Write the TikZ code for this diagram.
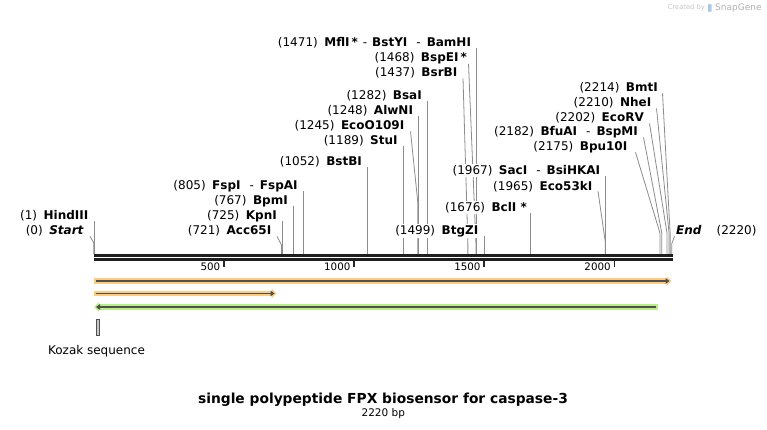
\documentclass[tikz,border=0pt]{standalone}
\usepackage{fontspec}
\setmainfont{DejaVu Sans}
\usetikzlibrary{arrows.meta,backgrounds}
\definecolor{featorange}{RGB}{252,204,128}
\definecolor{featgreen}{RGB}{184,240,134}
\definecolor{featline}{RGB}{80,80,80}
\definecolor{sitegray}{RGB}{140,140,140}
\definecolor{logoblue}{RGB}{172,202,232}
\def\bpx#1{93.8+0.2603*#1}
\def\site(#1)#2{(#1)\hspace{6.5pt}\textbf{#2}}
\def\sep{\hspace{9pt}-\hspace{6pt}}
\tikzset{
  lbl/.style={fill=white, inner xsep=0pt, inner ysep=1.5pt, anchor=base east, font=\fontsize{12}{14}\selectfont},
  cut/.style={sitegray, line width=0.8pt},
  bone/.style={line width=2.6pt, black!88},
  tickmark/.style={line width=1.8pt, black!85},
  ticklbl/.style={inner sep=0pt, anchor=base east, font=\fontsize{10.3}{12}\selectfont},
  band/.style={line width=5.6pt},
  fline/.style={featline, line width=1.7pt},
}

\begin{document}
\begin{tikzpicture}[x=1pt,y=-1pt]
	%%%%% START %%%%%
	\useasboundingbox (0,0) rectangle (767,430);
	\begin{pgfonlayer}{background}
		\fill[white] (0,0) rectangle (767,430);
	\end{pgfonlayer}
	
	\node[inner sep=0pt, anchor=base east, font=\fontsize{6.7}{8}\selectfont, text=black!22] (madeby) at (705,10) {Created by};
	\fill[logoblue, rounded corners=0.8pt] (708,4) rectangle (711.5,12);
	\node[inner sep=0pt, anchor=base west, font=\fontsize{9}{10}\selectfont, text=black!30] (snapgene) at (715,10.5) {SnapGene};
	
	% backbone and scale
	\draw[bone] (93.8,255.4) -- (672.7,255.4);
	\draw[bone] (93.8,259.3) -- (672.7,259.3);
	\draw[tickmark] ({\bpx{500}},260.5) -- ({\bpx{500}},267);
	\draw[tickmark] ({\bpx{1000}},260.5) -- ({\bpx{1000}},267);
	\draw[tickmark] ({\bpx{1500}},260.5) -- ({\bpx{1500}},267);
	\draw[tickmark] ({\bpx{2000}},260.5) -- ({\bpx{2000}},267);
	\node[ticklbl] (t500) at ({\bpx{500}-3.5},270.7) {500};
	\node[ticklbl] (t1000) at ({\bpx{1000}-3.5},270.7) {1000};
	\node[ticklbl] (t1500) at ({\bpx{1500}-3.5},270.7) {1500};
	\node[ticklbl] (t2000) at ({\bpx{2000}-3.5},270.7) {2000};
	
	% sites on the backbone
	\coordinate (s0) at ({\bpx{0}},254);
	\coordinate (s1) at ({\bpx{1}},254);
	\coordinate (s721) at ({\bpx{721}},254);
	\coordinate (s725) at ({\bpx{725}},254);
	\coordinate (s767) at ({\bpx{767}},254);
	\coordinate (s805) at ({\bpx{805}},254);
	\coordinate (s1052) at ({\bpx{1052}},254);
	\coordinate (s1189) at ({\bpx{1189}},254);
	\coordinate (s1245) at ({\bpx{1245}},254);
	\coordinate (s1248) at ({\bpx{1248}},254);
	\coordinate (s1282) at ({\bpx{1282}},254);
	\coordinate (s1437) at ({\bpx{1437}},254);
	\coordinate (s1468) at ({\bpx{1468}},254);
	\coordinate (s1471) at ({\bpx{1471}},254);
	\coordinate (s1499) at ({\bpx{1499}},254);
	\coordinate (s1676) at ({\bpx{1676}},254);
	\coordinate (s1965) at ({\bpx{1965}},254);
	\coordinate (s1967) at ({\bpx{1967}},254);
	\coordinate (s2175) at ({\bpx{2175}},254);
	\coordinate (s2182) at ({\bpx{2182}},254);
	\coordinate (s2202) at ({\bpx{2202}},254);
	\coordinate (s2210) at ({\bpx{2210}},254);
	\coordinate (s2214) at ({\bpx{2214}},254);
	\coordinate (s2220) at ({\bpx{2220}},254);
	
	% site labels
	\node[lbl] (start) at (84,234.3) {\site(0){\textit{Start}}};
	\node[lbl] (hindIII) at ({\bpx{1}-5.5},219.3) {\site(1){HindIII}};
	\node[lbl] (acc65I) at (271.5,234.3) {\site(721){Acc65I}};
	\node[lbl] (kpnI) at ({\bpx{725}-5.5},219.3) {\site(725){KpnI}};
	\node[lbl] (bpmI) at ({\bpx{767}-5.5},204.3) {\site(767){BpmI}};
	\node[lbl] (fspI) at ({\bpx{805}-5.5},189.3) {\site(805){FspI}\sep\textbf{FspAI}};
	\node[lbl] (bstBI) at ({\bpx{1052}-5.5},165.3) {\site(1052){BstBI}};
	\node[lbl] (stuI) at ({\bpx{1189}-5.5},144.3) {\site(1189){StuI}};
	\node[lbl] (ecoO109I) at (404.5,129.3) {\site(1245){EcoO109I}};
	\node[lbl] (alwNI) at ({\bpx{1248}-5.5},114.3) {\site(1248){AlwNI}};
	\node[lbl] (bsaI) at ({\bpx{1282}-5.5},99.3) {\site(1282){BsaI}};
	\node[lbl] (bsrBI) at (457.5,76.3) {\site(1437){BsrBI}};
	\node[lbl] (bspEI) at (467,61.8) {\site(1468){BspEI\,*}};
	\node[lbl] (mflI) at ({\bpx{1471}-5.5},46.3) {\site(1471){MflI\,*}\hspace{5pt}-\hspace{5pt}\textbf{BstYI}\sep\textbf{BamHI}};
	\node[lbl] (btgZI) at ({\bpx{1499}-5.5},234.3) {\site(1499){BtgZI}};
	\node[lbl] (bclI) at ({\bpx{1676}-3},211.3) {\site(1676){BclI *}};
	\node[lbl] (eco53kI) at (592.5,190.3) {\site(1965){Eco53kI}};
	\node[lbl] (sacI) at ({\bpx{1967}-5.5},174.3) {\site(1967){SacI}\sep\textbf{BsiHKAI}};
	\node[lbl] (bpu10I) at (627.5,150.3) {\site(2175){Bpu10I}};
	\node[lbl] (bfuAI) at (638,135.3) {\site(2182){BfuAI}\sep\textbf{BspMI}};
	\node[lbl] (ecoRV) at (644,121.3) {\site(2202){EcoRV}};
	\node[lbl] (nheI) at (651.5,106.3) {\site(2210){NheI}};
	\node[lbl] (bmtI) at (658,91.3) {\site(2214){BmtI}};
	\node[lbl, anchor=base west] (endlbl) at (676,234.3) {\textbf{\textit{End}}\hspace{15pt}(2220)};
	
	% connectors, behind the labels
	\begin{pgfonlayer}{background}
	\draw[cut] ([xshift=6pt,yshift=-2pt]start.base east) -- ([yshift=11pt]s0) -- (s0);
	\draw[cut] ([xshift=5.5pt,yshift=-2pt]hindIII.base east) -- (s1);
	\draw[cut] ([xshift=5.5pt,yshift=-2pt]acc65I.base east) -- ([yshift=9pt]s721) -- (s721);
	\draw[cut] ([xshift=5.5pt,yshift=-2pt]kpnI.base east) -- (s725);
	\draw[cut] ([xshift=5.5pt,yshift=-2pt]bpmI.base east) -- (s767);
	\draw[cut] ([xshift=5.5pt,yshift=-2pt]fspI.base east) -- (s805);
	\draw[cut] ([xshift=5.5pt,yshift=-2pt]bstBI.base east) -- (s1052);
	\draw[cut] ([xshift=5.5pt,yshift=-2pt]stuI.base east) -- (s1189);
	\draw[cut] ([xshift=6pt,yshift=-2pt]ecoO109I.base east) -- ([yshift=51pt]s1245) -- (s1245);
	\draw[cut] ([xshift=5.5pt,yshift=-2pt]alwNI.base east) -- (s1248);
	\draw[cut] ([xshift=5.5pt,yshift=-2pt]bsaI.base east) -- (s1282);
	\draw[cut] ([xshift=5.5pt,yshift=-2pt]bsrBI.base east) -- ([yshift=11pt]s1437) -- (s1437);
	\draw[cut] ([xshift=1.5pt,yshift=-2pt]bspEI.base east) -- ([yshift=11pt]s1468) -- (s1468);
	\draw[cut] ([xshift=5.5pt,yshift=-2pt]mflI.base east) -- (s1471);
	\draw[cut] ([xshift=5.5pt,yshift=-2pt]btgZI.base east) -- (s1499);
	\draw[cut] ([xshift=3pt,yshift=-2pt]bclI.base east) -- (s1676);
	\draw[cut] ([xshift=5.5pt,yshift=-1pt]eco53kI.base east) -- ([yshift=12pt]s1965) -- (s1965);
	\draw[cut] ([xshift=5.5pt,yshift=-2pt]sacI.base east) -- (s1967);
	\draw[cut] ([xshift=8pt,yshift=-2pt]bpu10I.base east) -- ([yshift=21pt]s2175) -- (s2175);
	\draw[cut] ([xshift=5.5pt,yshift=-2pt]bfuAI.base east) -- ([yshift=21pt]s2182) -- (s2182);
	\draw[cut] ([xshift=5.5pt,yshift=-2pt]ecoRV.base east) -- ([yshift=21pt]s2202) -- (s2202);
	\draw[cut] ([xshift=5pt,yshift=-2pt]nheI.base east) -- ([yshift=21pt]s2210) -- (s2210);
	\draw[cut] ([xshift=4.5pt,yshift=-2pt]bmtI.base east) -- ([yshift=21pt]s2214) -- (s2214);
	\draw[cut] ([xshift=-1.5pt,yshift=-2pt]endlbl.base west) -- ([yshift=10pt]s2220) -- (s2220);
	\end{pgfonlayer}
	
	% features
	\draw[band, featorange, -{Triangle[length=5pt,width=9.5pt]}] (94,281) -- (671.5,281);
	\draw[fline, -{Triangle[length=4pt,width=5.5pt]}] (95.7,281) -- (669.5,281);
	\draw[band, featorange, -{Triangle[length=5pt,width=9.5pt]}] (94,293.5) -- (276.5,293.5);
	\draw[fline, -{Triangle[length=4pt,width=5.5pt]}] (95.7,293.5) -- (274.5,293.5);
	\draw[band, featgreen, {Triangle[length=5pt,width=9.5pt]}-] (94,307) -- (658,307);
	\draw[fline, {Triangle[length=4pt,width=5.5pt]}-] (96,307) -- (655.8,307);
	
	\draw[featline, fill=black!22, line width=0.6pt] (96.7,319.5) rectangle (98.9,335.5);
	\node[inner sep=0pt, anchor=base, font=\fontsize{12}{14}\selectfont] (kozak) at (96.5,354.5) {Kozak sequence};
	
	\node[inner sep=0pt, anchor=base, font=\bfseries\fontsize{13.8}{16}\selectfont] (title) at (383,403.3) {single polypeptide FPX biosensor for caspase-3};
	\node[inner sep=0pt, anchor=base, font=\fontsize{10.5}{12}\selectfont] (length) at (383.3,416.7) {2220 bp};
	
	%%%%% END %%%%%
\end{tikzpicture}
\end{document}
